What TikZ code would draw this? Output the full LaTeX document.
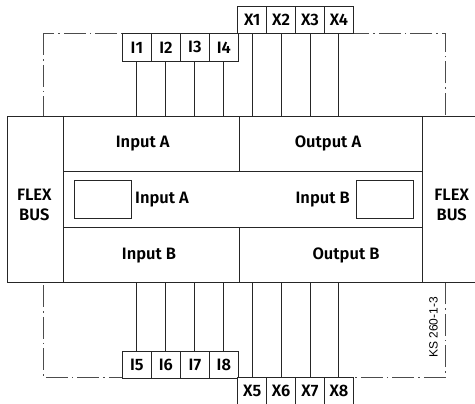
\documentclass[tikz,border=0pt]{standalone}
\usepackage{fontspec}
\setmainfont{Fira Sans}[UprightFont={* SemiBold}]
\newfontfamily\ksfont{Liberation Sans}
\begin{document}
\begin{tikzpicture}[x=1pt,y=-1pt,
  ln/.style={line width=0.9pt, draw=black!85},
  cell/.style={ln, fill=white, rectangle, inner sep=0pt, anchor=north west},
  pin/.style={cell, minimum width=28.9pt, minimum height=27.3pt, font=\fontsize{16.5}{16.5}\selectfont},
  lab/.style={font=\fontsize{16.5}{20}\selectfont, inner sep=0pt, align=center},
  dd/.style={line width=0.7pt, draw=black!70, dash pattern=on 22pt off 4pt on 1.5pt off 4pt}]
\useasboundingbox (0,0) rectangle (475,404);
% dash-dot outline
\draw[dd] (43.3,33.3) rectangle (445,377.3);
% main cells
\node[cell, minimum width=56.6pt, minimum height=166pt] (flexL) at (6.7,116) {};
\node[cell, minimum width=175.4pt, minimum height=55pt] (inA) at (63.3,116) {};
\node[cell, minimum width=183.6pt, minimum height=55pt] (outA) at (238.7,116) {};
\node[cell, minimum width=359pt, minimum height=55.7pt] (mid) at (63.3,171) {};
\node[cell, minimum width=175.4pt, minimum height=55.3pt] (inB) at (63.3,226.7) {};
\node[cell, minimum width=183.6pt, minimum height=55.3pt] (outB) at (238.7,226.7) {};
\node[cell, minimum width=56pt, minimum height=166pt] (flexR) at (422.3,116) {};
\node[cell, minimum width=56.7pt, minimum height=37.7pt] (smallL) at (74,180) {};
\node[cell, minimum width=56.7pt, minimum height=37.7pt] (smallR) at (356,180) {};
% labels
\node[lab] (tFL) at (34.3,204.5) {FLEX\\BUS};
\node[lab] (tFR) at (451.7,204.5) {FLEX\\BUS};
\node[lab] (tIA) at (142.7,143.5) {Input A};
\node[lab] (tOA) at (328,143.5) {Output A};
\node[lab, anchor=west] (tMA) at (135,199.5) {Input A};
\node[lab, anchor=east] (tMB) at (350,199.5) {Input B};
\node[lab] (tIB) at (149,255.5) {Input B};
\node[lab] (tOB) at (346,255.5) {Output B};
% top pins
\node[pin] (I1) at (122,33.3) {I1};
\node[pin] (I2) at (151,33.3) {I2};
\node[pin] (I3) at (180,33.3) {I3};
\node[pin] (I4) at (209,33.3) {I4};
\node[pin] (X1) at (237.3,6) {X1};
\node[pin] (X2) at (266.2,6) {X2};
\node[pin] (X3) at (295.1,6) {X3};
\node[pin] (X4) at (324,6) {X4};
% bottom pins
\node[pin] (I5) at (122,351) {I5};
\node[pin] (I6) at (151,351) {I6};
\node[pin] (I7) at (180,351) {I7};
\node[pin] (I8) at (209,351) {I8};
\node[pin] (X5) at (237.3,377.3) {X5};
\node[pin] (X6) at (266.2,377.3) {X6};
\node[pin] (X7) at (295.1,377.3) {X7};
\node[pin] (X8) at (324,377.3) {X8};
% connectors
\foreach \p in {I1,I2,I3,I4} \draw[ln] (\p.south) -- (\p.south |- inA.north);
\foreach \p in {X1,X2,X3,X4} \draw[ln] (\p.south) -- (\p.south |- outA.north);
\foreach \p in {I5,I6,I7,I8} \draw[ln] (\p.north) -- (\p.north |- inB.south);
\foreach \p in {X5,X6,X7,X8} \draw[ln] (\p.north) -- (\p.north |- outB.south);
% drawing number
\node[rotate=90, inner sep=0pt, font=\ksfont\fontsize{12}{12}\selectfont] (ks) at (433.5,327.5) {KS 260-1-3};
\end{tikzpicture}
\end{document}
